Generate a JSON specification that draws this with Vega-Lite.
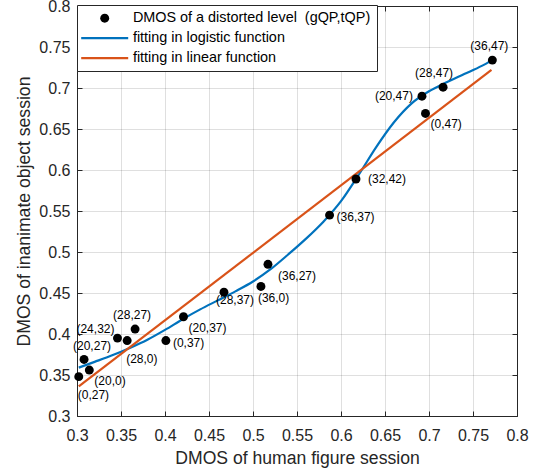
{
  "$schema": "https://vega.github.io/schema/vega-lite/v6.json",
  "width": 440,
  "height": 410,
  "autosize": {"type": "none"},
  "padding": {"left": 77, "top": 6, "right": 21, "bottom": 58},
  "background": "white",
  "config": {
    "font": "Liberation Sans",
    "view": {"stroke": null},
    "axis": {
      "labelFont": "Liberation Sans",
      "titleFont": "Liberation Sans",
      "labelColor": "#262626",
      "titleColor": "#262626",
      "domainColor": "#262626",
      "tickColor": "#262626",
      "gridColor": "#262626",
      "gridOpacity": 0.15,
      "labelFontSize": 16,
      "titleFontSize": 17.6,
      "titleFontWeight": "normal",
      "tickSize": -5,
      "domainWidth": 1,
      "tickWidth": 1
    }
  },
  "datasets": {
    "pts": [
      {"x": 0.302, "y": 0.348, "label": "(0,27)"},
      {"x": 0.308, "y": 0.369, "label": "(20,27)"},
      {"x": 0.314, "y": 0.356, "label": "(20,0)"},
      {"x": 0.346, "y": 0.395, "label": "(24,32)"},
      {"x": 0.357, "y": 0.392, "label": "(28,0)"},
      {"x": 0.366, "y": 0.406, "label": "(28,27)"},
      {"x": 0.401, "y": 0.392, "label": "(0,37)"},
      {"x": 0.421, "y": 0.421, "label": "(20,37)"},
      {"x": 0.467, "y": 0.451, "label": "(28,37)"},
      {"x": 0.509, "y": 0.458, "label": "(36,0)"},
      {"x": 0.517, "y": 0.485, "label": "(36,27)"},
      {"x": 0.587, "y": 0.545, "label": "(36,37)"},
      {"x": 0.617, "y": 0.589, "label": "(32,42)"},
      {"x": 0.692, "y": 0.690, "label": "(20,47)"},
      {"x": 0.696, "y": 0.669, "label": "(0,47)"},
      {"x": 0.716, "y": 0.701, "label": "(28,47)"},
      {"x": 0.772, "y": 0.734, "label": "(36,47)"}
    ],
    "logistic": [
      {"x": 0.302, "y": 0.359}, {"x": 0.32, "y": 0.366}, {"x": 0.34, "y": 0.374},
      {"x": 0.36, "y": 0.383}, {"x": 0.38, "y": 0.393}, {"x": 0.40, "y": 0.405},
      {"x": 0.42, "y": 0.418}, {"x": 0.44, "y": 0.430}, {"x": 0.46, "y": 0.441},
      {"x": 0.48, "y": 0.452}, {"x": 0.50, "y": 0.464}, {"x": 0.52, "y": 0.479},
      {"x": 0.54, "y": 0.497}, {"x": 0.56, "y": 0.516}, {"x": 0.58, "y": 0.537},
      {"x": 0.60, "y": 0.562}, {"x": 0.62, "y": 0.594}, {"x": 0.64, "y": 0.628},
      {"x": 0.66, "y": 0.658}, {"x": 0.68, "y": 0.681}, {"x": 0.70, "y": 0.696},
      {"x": 0.72, "y": 0.707}, {"x": 0.74, "y": 0.717}, {"x": 0.76, "y": 0.727},
      {"x": 0.772, "y": 0.734}
    ],
    "linear": [
      {"x": 0.302, "y": 0.336},
      {"x": 0.771, "y": 0.722}
    ]
  },
  "resolve": {"axis": {"x": "independent", "y": "independent"}},
  "layer": [
    {
      "layer": [
        {
          "data": {"name": "logistic"},
          "mark": {"type": "line", "color": "#0072BD", "strokeWidth": 2.2, "interpolate": "monotone"},
          "encoding": {
            "x": {"field": "x", "type": "quantitative",
              "scale": {"domain": [0.3, 0.8], "nice": false, "zero": false},
              "axis": {"orient": "bottom", "title": "DMOS of human figure session",
                "values": [0.3,0.35,0.4,0.45,0.5,0.55,0.6,0.65,0.7,0.75,0.8],
                "format": "~g", "grid": true, "labelPadding": 16, "titlePadding": 6, "labelFlush": false}},
            "y": {"field": "y", "type": "quantitative",
              "scale": {"domain": [0.3, 0.8], "nice": false, "zero": false},
              "axis": {"orient": "left", "title": "DMOS of inanimate object session",
                "values": [0.3,0.35,0.4,0.45,0.5,0.55,0.6,0.65,0.7,0.75,0.8],
                "format": "~g", "grid": true, "labelPadding": 12, "titlePadding": 5, "labelFlush": false}},
            "color": {"datum": "fitting in logistic function", "type": "nominal",
              "scale": {"domain": ["DMOS of a distorted level\u00a0\u00a0(gQP,tQP)", "fitting in logistic function", "fitting in linear function"],
                        "range": ["#000000", "#0072BD", "#D95319"]},
              "legend": {
                "orient": "none", "legendX": 0, "legendY": -1,
                "title": null, "padding": 6, "fillColor": "white", "strokeColor": "#262626",
                "labelFont": "Liberation Sans", "labelFontSize": 14.4, "labelColor": "#000000",
                "symbolSize": 2209, "labelOffset": 21, "symbolOffset": 14.5, "rowPadding": 5, "labelLimit": 400,
                "symbolStrokeWidth": 2,
                "encode": {"symbols": {"update": {
                  "shape": {"signal": "datum.index === 0 ? 'circle' : 'stroke'"},
                  "size": {"signal": "datum.index === 0 ? 80 : 2209"},
                  "fill": {"signal": "datum.index === 0 ? '#000000' : 'transparent'"},
                  "stroke": {"scale": "color", "field": "value"},
                  "strokeWidth": {"signal": "datum.index === 0 ? 0 : 2.2"},
                  "opacity": {"value": 1}
                }}}
              }}
          }
        },
        {
          "data": {"name": "linear"},
          "mark": {"type": "line", "color": "#D95319", "strokeWidth": 2.2},
          "encoding": {
            "x": {"field": "x", "type": "quantitative"},
            "y": {"field": "y", "type": "quantitative"},
            "color": {"datum": "fitting in linear function", "type": "nominal"}
          }
        },
        {
          "data": {"name": "pts"},
          "mark": {"type": "point", "filled": true, "size": 80, "opacity": 1},
          "encoding": {
            "x": {"field": "x", "type": "quantitative"},
            "y": {"field": "y", "type": "quantitative"},
            "color": {"datum": "DMOS of a distorted level\u00a0\u00a0(gQP,tQP)", "type": "nominal"}
          }
        },
        {
          "data": {"name": "pts"},
          "transform": [{"filter": {"field": "label", "oneOf": ["(0,27)", "(28,0)"]}}],
          "mark": {"type": "text", "align": "left", "baseline": "middle", "dx": -1, "dy": 18, "fontSize": 12, "color": "#000000"},
          "encoding": {"x": {"field": "x", "type": "quantitative"}, "y": {"field": "y", "type": "quantitative"}, "text": {"field": "label"}}
        },
        {
          "data": {"name": "pts"},
          "transform": [{"filter": {"field": "label", "oneOf": ["(36,0)"]}}],
          "mark": {"type": "text", "align": "left", "baseline": "middle", "dx": -3, "dy": 12, "fontSize": 12, "color": "#000000"},
          "encoding": {"x": {"field": "x", "type": "quantitative"}, "y": {"field": "y", "type": "quantitative"}, "text": {"field": "label"}}
        },
        {
          "data": {"name": "pts"},
          "transform": [{"filter": {"field": "label", "oneOf": ["(0,37)", "(36,37)"]}}],
          "mark": {"type": "text", "align": "left", "baseline": "middle", "dx": 7, "dy": 2, "fontSize": 12, "color": "#000000"},
          "encoding": {"x": {"field": "x", "type": "quantitative"}, "y": {"field": "y", "type": "quantitative"}, "text": {"field": "label"}}
        },
        {
          "data": {"name": "pts"},
          "transform": [{"filter": {"field": "label", "oneOf": ["(32,42)"]}}],
          "mark": {"type": "text", "align": "left", "baseline": "middle", "dx": 12, "dy": 0, "fontSize": 12, "color": "#000000"},
          "encoding": {"x": {"field": "x", "type": "quantitative"}, "y": {"field": "y", "type": "quantitative"}, "text": {"field": "label"}}
        },
        {
          "data": {"name": "pts"},
          "transform": [{"filter": {"field": "label", "oneOf": ["(20,0)", "(20,37)", "(0,47)"]}}],
          "mark": {"type": "text", "align": "left", "baseline": "middle", "dx": 5, "dy": 11, "fontSize": 12, "color": "#000000"},
          "encoding": {"x": {"field": "x", "type": "quantitative"}, "y": {"field": "y", "type": "quantitative"}, "text": {"field": "label"}}
        },
        {
          "data": {"name": "pts"},
          "transform": [{"filter": {"field": "label", "oneOf": ["(36,27)"]}}],
          "mark": {"type": "text", "align": "left", "baseline": "middle", "dx": 10, "dy": 12, "fontSize": 12, "color": "#000000"},
          "encoding": {"x": {"field": "x", "type": "quantitative"}, "y": {"field": "y", "type": "quantitative"}, "text": {"field": "label"}}
        },
        {
          "data": {"name": "pts"},
          "transform": [{"filter": {"field": "label", "oneOf": ["(28,37)"]}}],
          "mark": {"type": "text", "align": "left", "baseline": "middle", "dx": -8, "dy": 8, "fontSize": 12, "color": "#000000"},
          "encoding": {"x": {"field": "x", "type": "quantitative"}, "y": {"field": "y", "type": "quantitative"}, "text": {"field": "label"}}
        },
        {
          "data": {"name": "pts"},
          "transform": [{"filter": {"field": "label", "oneOf": ["(28,27)", "(36,47)"]}}],
          "mark": {"type": "text", "align": "center", "baseline": "middle", "dx": -3, "dy": -14, "fontSize": 12, "color": "#000000"},
          "encoding": {"x": {"field": "x", "type": "quantitative"}, "y": {"field": "y", "type": "quantitative"}, "text": {"field": "label"}}
        },
        {
          "data": {"name": "pts"},
          "transform": [{"filter": {"field": "label", "oneOf": ["(28,47)"]}}],
          "mark": {"type": "text", "align": "center", "baseline": "middle", "dx": -9, "dy": -14, "fontSize": 12, "color": "#000000"},
          "encoding": {"x": {"field": "x", "type": "quantitative"}, "y": {"field": "y", "type": "quantitative"}, "text": {"field": "label"}}
        },
        {
          "data": {"name": "pts"},
          "transform": [{"filter": {"field": "label", "oneOf": ["(20,27)"]}}],
          "mark": {"type": "text", "align": "center", "baseline": "middle", "dx": 8, "dy": -13, "fontSize": 12, "color": "#000000"},
          "encoding": {"x": {"field": "x", "type": "quantitative"}, "y": {"field": "y", "type": "quantitative"}, "text": {"field": "label"}}
        },
        {
          "data": {"name": "pts"},
          "transform": [{"filter": {"field": "label", "oneOf": ["(24,32)"]}}],
          "mark": {"type": "text", "align": "right", "baseline": "middle", "dx": -3, "dy": -9, "fontSize": 12, "color": "#000000"},
          "encoding": {"x": {"field": "x", "type": "quantitative"}, "y": {"field": "y", "type": "quantitative"}, "text": {"field": "label"}}
        },
        {
          "data": {"name": "pts"},
          "transform": [{"filter": {"field": "label", "oneOf": ["(20,47)"]}}],
          "mark": {"type": "text", "align": "right", "baseline": "middle", "dx": -9, "dy": 0, "fontSize": 12, "color": "#000000"},
          "encoding": {"x": {"field": "x", "type": "quantitative"}, "y": {"field": "y", "type": "quantitative"}, "text": {"field": "label"}}
        }
      ]
    },
    {
      "data": {"name": "pts"},
      "mark": {"type": "point", "opacity": 0},
      "encoding": {
        "x": {"field": "x", "type": "quantitative",
          "axis": {"orient": "top", "title": null, "labels": false, "grid": false,
            "values": [0.3,0.35,0.4,0.45,0.5,0.55,0.6,0.65,0.7,0.75,0.8]}},
        "y": {"field": "y", "type": "quantitative",
          "axis": {"orient": "right", "title": null, "labels": false, "grid": false,
            "values": [0.3,0.35,0.4,0.45,0.5,0.55,0.6,0.65,0.7,0.75,0.8]}}
      }
    }
  ]
}
